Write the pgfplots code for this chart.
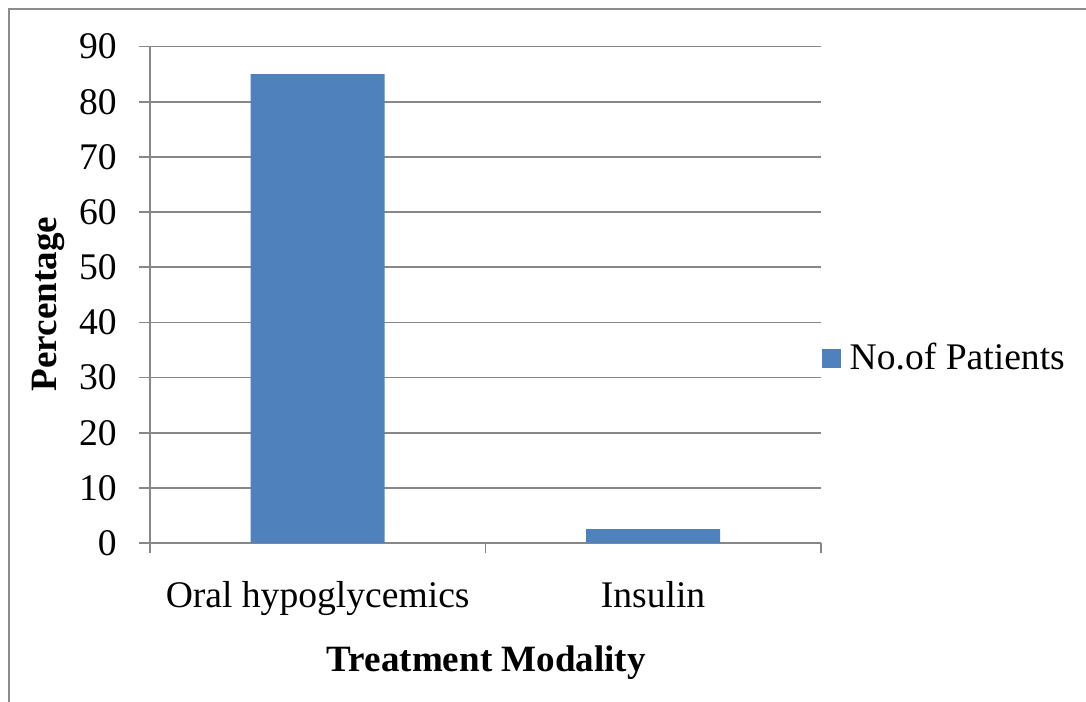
\documentclass[border=0pt]{standalone}
\usepackage{fontspec}
\setmainfont{Liberation Serif}
\usepackage{pgfplots}
\pgfplotsset{compat=1.18}

\definecolor{barblue}{HTML}{4F81BD}
\definecolor{axisgray}{HTML}{878787}
\definecolor{framegray}{HTML}{8C8C8C}

\newcommand{\chartfont}{\fontsize{18.8pt}{22pt}\selectfont}
\newcommand{\labelfont}{\fontsize{18.55pt}{22pt}\selectfont\bfseries}

\begin{document}
\begin{tikzpicture}
  \useasboundingbox (0,0) rectangle (543pt,350.5pt);
  % outer chart frame (left and top edges)
  \draw[framegray, line width=1pt] (4.5pt,-2pt) -- (4.5pt,346pt) -- (545pt,346pt);

  \begin{axis}[
    at={(75pt,79pt)}, anchor=south west,
    scale only axis,
    width=335.35pt, height=248.2pt,
    xmin=-0.5, xmax=1.5,
    ymin=0, ymax=90,
    axis x line*=bottom, axis y line*=left,
    axis line style={axisgray, line width=1pt, -},
    ytick={0,10,...,90},
    ymajorgrids,
    grid style={axisgray, line width=0.85pt},
    tick align=outside,
    major tick length=5.25pt,
    tick style={axisgray, line width=0.85pt},
    xtick={-0.5,0.5,1.5},
    xticklabels={},
    extra x ticks={0,1},
    extra x tick labels={Oral hypoglycemics, Insulin},
    extra x tick style={major tick length=0pt},
    x tick label style={font=\chartfont, anchor=base, yshift=-32.5pt},
    y tick label style={font=\chartfont, anchor=east, inner xsep=0pt, xshift=-11.15pt},
    /pgf/number format/assume math mode=true,
    xlabel={Treatment Modality},
    ylabel={Percentage},
    xlabel style={font=\labelfont, at={(axis description cs:0.5015,-0.2598)}, anchor=base},
    ylabel style={font=\labelfont, at={(axis description cs:-0.13925,0.4814)}, anchor=base, rotate=0},
    legend style={at={(axis description cs:1,0.3726)}, anchor=west, xshift=0.6pt,
      draw=none, fill=none, inner sep=0pt, font=\chartfont},
    legend cell align=left,
    legend image code/.code={\fill[barblue] (0pt,-4.75pt) rectangle (9.5pt,4.75pt);},
    legend style={nodes={inner xsep=4.2pt}},
  ]
    \addplot[ybar, bar width=67pt, bar shift=0pt, fill=barblue, draw=none]
      coordinates {(0,85) (1,2.5)};
    \addlegendentry{No.of Patients}
  \end{axis}
\end{tikzpicture}
\end{document}
